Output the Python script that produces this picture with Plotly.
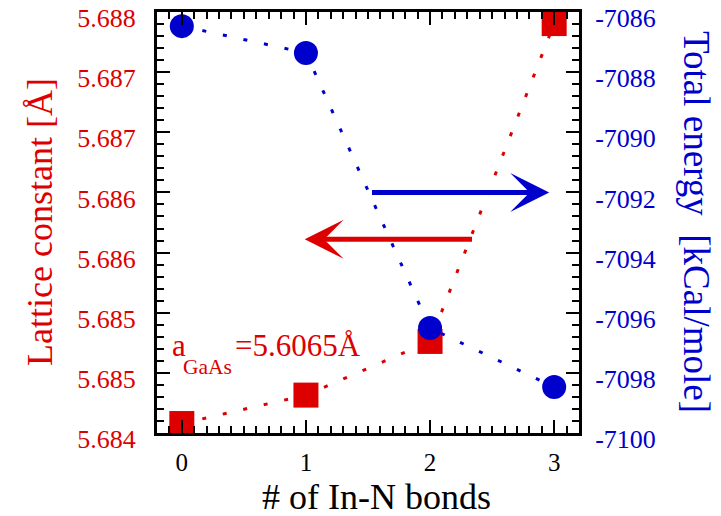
import plotly.graph_objects as go

# ---------------- data ----------------
n_bonds = [0, 1, 2, 3]
lattice_const = [5.68409, 5.68436, 5.68487, 5.68789]      # Å (left axis)
total_energy = [-7086.47, -7087.36, -7096.51, -7098.47]   # kCal/mole (right axis)

x_ticks = [0, 1, 2, 3]
y1_min, y1_max, y1_nint = 5.684, 5.688, 7
y1_ticks = [round(y1_min + i * (y1_max - y1_min) / y1_nint, 9) for i in range(y1_nint + 1)]
y1_ticktext = [f"{v:.3f}" for v in y1_ticks]
y2_ticks = [-7100, -7098, -7096, -7094, -7092, -7090, -7088, -7086]
y2_ticktext = [str(v) for v in y2_ticks]

RED = "#dd0000"
BLUE = "#0000cc"
FONT = "Liberation Serif"

# geometry helpers (plot area in pixels)
L, R, T, B = 157, 579, 12, 433
W, H = 721, 516
def px(x):
    return (x - L) / (R - L)
def py(y):
    return (B - y) / (B - T)

x_minor = [round(-0.2 + 0.1 * i, 2) for i in range(35)]
y1_minor = [round(y1_min + i * (y1_max - y1_min) / (y1_nint * 5), 9) for i in range(y1_nint * 5 + 1)]
y2_minor = [round(-7100 + 0.4 * i, 3) for i in range(36)]

fig = go.Figure()
fig.add_trace(go.Scatter(
    x=n_bonds, y=lattice_const, mode="lines+markers",
    line=dict(color=RED, width=3, dash="4px,17px"),
    marker=dict(symbol="square", size=25, color=RED),
    cliponaxis=False, yaxis="y", showlegend=False))
fig.add_trace(go.Scatter(
    x=n_bonds, y=total_energy, mode="lines+markers",
    line=dict(color=BLUE, width=3, dash="4px,17px"),
    marker=dict(symbol="circle", size=24, color=BLUE),
    cliponaxis=False, yaxis="y2", showlegend=False))

axis_common = dict(showline=True, linecolor="black", linewidth=3,
                   ticks="inside", ticklen=13, tickwidth=2, tickcolor="black",
                   showgrid=False, zeroline=False, ticklabeloverflow="allow",
                   automargin=False)

fig.update_layout(
    template="none",
    width=W, height=H,
    margin=dict(l=L, r=W - R, t=T, b=H - B, autoexpand=False),
    paper_bgcolor="white", plot_bgcolor="white",
    font=dict(family=FONT),
    xaxis=dict(**axis_common, range=[-0.2, 3.2], mirror="ticks",
               tickmode="array", tickvals=x_ticks, ticktext=[str(v) for v in x_ticks],
               tickfont=dict(family=FONT, size=25, color="black"),
               ticklabelstandoff=5,
               minor=dict(tickmode="array", tickvals=x_minor, ticks="inside",
                          ticklen=7, tickwidth=2, tickcolor="black")),
    yaxis=dict(**axis_common, range=[y1_min, y1_max],
               tickmode="array", tickvals=y1_ticks, ticktext=y1_ticktext,
               tickfont=dict(family=FONT, size=26, color=RED),
               ticklabelstandoff=13, ticklabelshift=6,
               minor=dict(tickmode="array", tickvals=y1_minor, ticks="inside",
                          ticklen=7, tickwidth=2, tickcolor="black")),
    yaxis2=dict(**axis_common, range=[-7100, -7086], overlaying="y", side="right",
                tickmode="array", tickvals=y2_ticks, ticktext=y2_ticktext,
                tickfont=dict(family=FONT, size=26, color=BLUE),
                ticklabelstandoff=8, ticklabelshift=6,
                minor=dict(tickmode="array", tickvals=y2_minor, ticks="inside",
                           ticklen=7, tickwidth=2, tickcolor="black")),
)

ann = []
# axis titles
ann.append(dict(text="Lattice constant [Å]", xref="paper", yref="paper",
                x=px(40), y=py(222), xanchor="center", yanchor="middle",
                textangle=-90, showarrow=False, font=dict(family=FONT, size=36, color=RED)))
ann.append(dict(text="Total energy\u00a0 [kCal/mole]", xref="paper", yref="paper",
                x=px(697), y=py(222), xanchor="center", yanchor="middle",
                textangle=90, showarrow=False, font=dict(family=FONT, size=37, color=BLUE)))
ann.append(dict(text="# of In-N bonds", xref="paper", yref="paper",
                x=px(376), y=py(497), xanchor="center", yanchor="middle",
                showarrow=False, font=dict(family=FONT, size=36, color="black")))
# a_GaAs label
ann.append(dict(text="a", xref="paper", yref="paper", x=px(170), y=py(345),
                xanchor="left", yanchor="middle", showarrow=False,
                font=dict(family=FONT, size=31, color=RED)))
ann.append(dict(text="GaAs", xref="paper", yref="paper", x=px(181), y=py(367),
                xanchor="left", yanchor="middle", showarrow=False,
                font=dict(family=FONT, size=21.5, color=RED)))
ann.append(dict(text="=5.6065Å", xref="paper", yref="paper", x=px(233), y=py(345),
                xanchor="left", yanchor="middle", showarrow=False,
                font=dict(family=FONT, size=31, color=RED)))
# arrows
ann.append(dict(text="", x=2.96, y=-7092, xref="x", yref="y2",
                ax=1.52, ay=-7092, axref="x", ayref="y2",
                showarrow=True, arrowhead=3, arrowsize=1.3, arrowwidth=5,
                arrowcolor=BLUE, standoff=0))
ann.append(dict(text="", x=0.99, y=5.68584, xref="x", yref="y",
                ax=2.35, ay=5.68584, axref="x", ayref="y",
                showarrow=True, arrowhead=3, arrowsize=1.3, arrowwidth=5,
                arrowcolor=RED, standoff=0))
fig.update_layout(annotations=ann)

fig.write_html("out.html", config={"displayModeBar": False},
               post_script="document.body.style.margin='0';document.body.style.padding='0';")
